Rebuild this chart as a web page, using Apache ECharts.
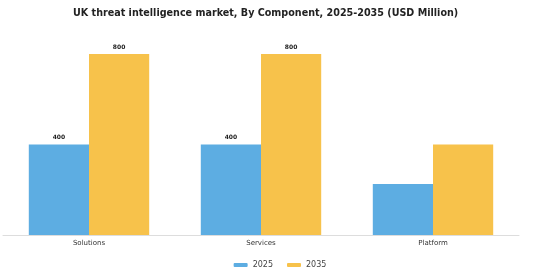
<!DOCTYPE html>
<html>
<head>
<meta charset="utf-8">
<script src="https://cdn.jsdelivr.net/npm/echarts@6/dist/echarts.min.js"></script>
<style>
  html, body { margin: 0; padding: 0; background: #fff; }
  #chart { width: 560px; height: 280px; }
</style>
</head>
<body>
<div id="chart"></div>
<script>
const categories = ["Solutions", "Services", "Platform"];
const values2025 = [400, 400, 225];
const values2035 = [800, 800, 400];
const labelled = [true, true, false];

const chart = echarts.init(document.getElementById("chart"));

const withLabels = (arr) =>
  arr.map((v, i) => ({
    value: v,
    label: { show: labelled[i] },
  }));

chart.setOption({
  animation: false,
  title: {
    text: "UK threat intelligence market, By Component, 2025-2035 (USD Million)",
    left: 68,
    top: 3,
    textStyle: {
      fontFamily: "DejaVu Sans",
      fontSize: 9.6,
      fontWeight: "bold",
      color: "#222",
    },
  },
  legend: {
    bottom: 6,
    left: "center",
    itemWidth: 14,
    itemHeight: 4,
    itemGap: 14,
    textStyle: { fontFamily: "DejaVu Sans", fontSize: 8, color: "#444" },
    data: ["2025", "2035"],
  },
  grid: { left: 3, width: 516, top: 54, bottom: 45 },
  xAxis: {
    type: "category",
    data: categories,
    axisTick: { show: false },
    axisLine: { lineStyle: { color: "#ddd" } },
    axisLabel: { fontFamily: "DejaVu Sans", fontSize: 7, color: "#333", margin: 5 },
  },
  yAxis: {
    type: "value",
    min: 0,
    max: 800,
    show: false,
    splitLine: { show: false },
  },
  series: [
    {
      name: "2025",
      type: "bar",
      barGap: "0%",
      barCategoryGap: "30%",
      itemStyle: { color: "#5DADE2" },
      label: {
        position: "top",
        fontFamily: "DejaVu Sans",
        fontSize: 6,
        fontWeight: "bold",
        color: "#222",
        distance: 4,
      },
      data: withLabels(values2025),
    },
    {
      name: "2035",
      type: "bar",
      itemStyle: { color: "#F7C24B" },
      label: {
        position: "top",
        fontFamily: "DejaVu Sans",
        fontSize: 6,
        fontWeight: "bold",
        color: "#222",
        distance: 4,
      },
      data: withLabels(values2035),
    },
  ],
});
</script>
</body>
</html>
